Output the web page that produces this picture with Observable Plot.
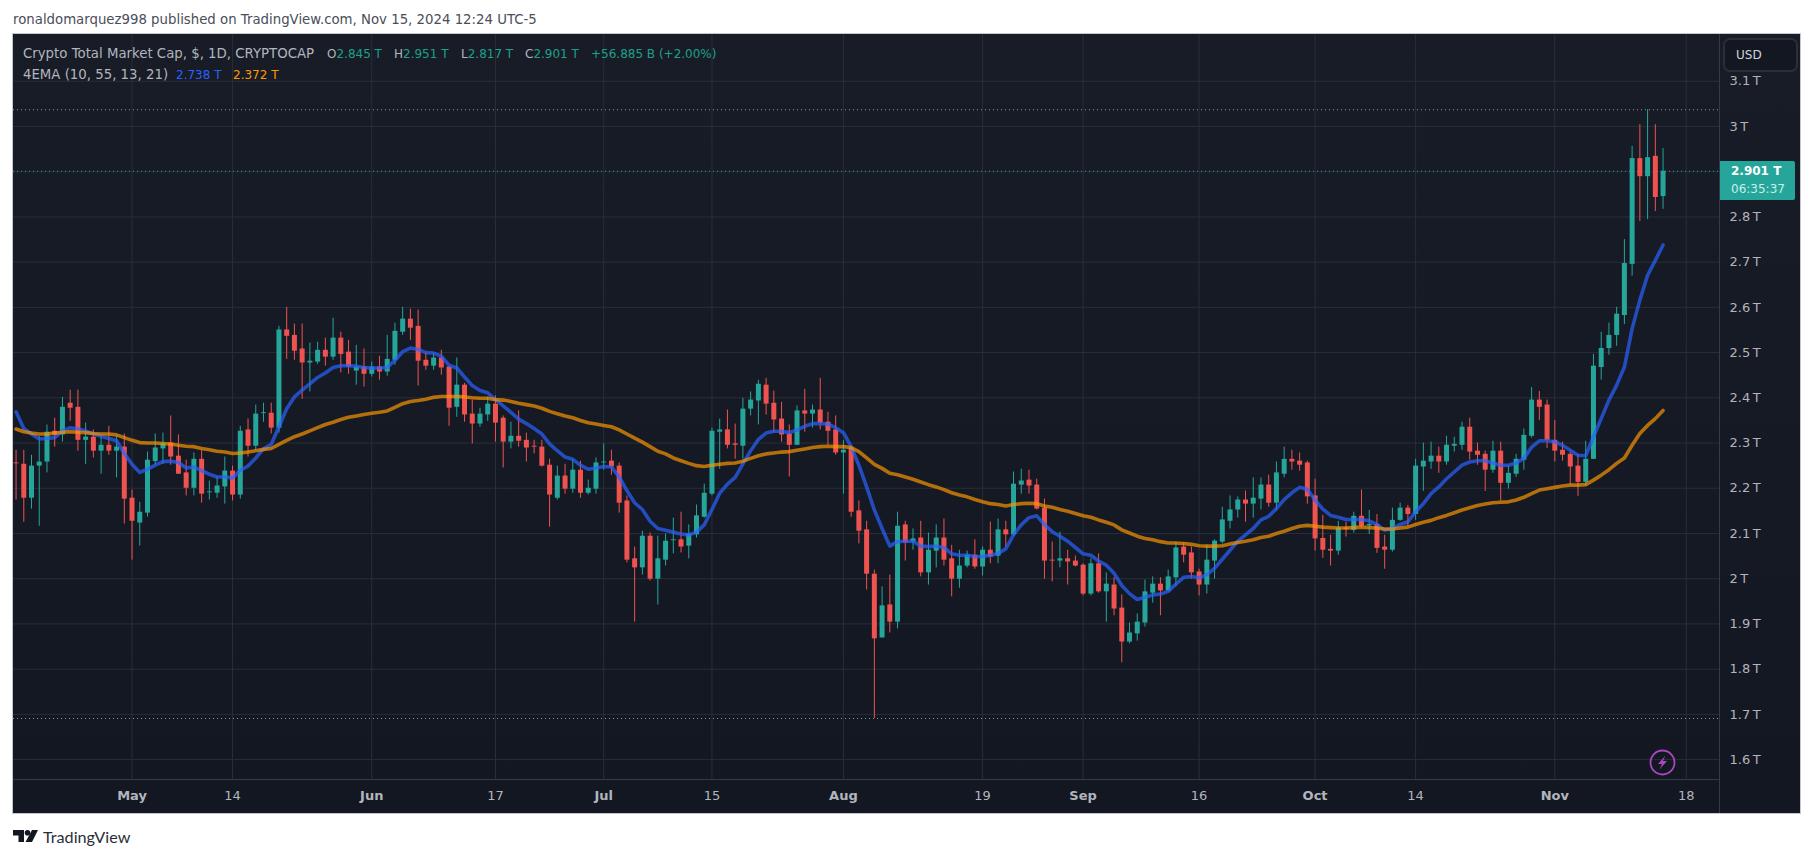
<!DOCTYPE html>
<html>
<head>
<meta charset="utf-8">
<script src="https://cdn.jsdelivr.net/npm/d3@7"></script>
<script src="https://cdn.jsdelivr.net/npm/@observablehq/plot@0.6"></script>
<style>
  html, body { margin: 0; padding: 0; background: #fff; }
  body { width: 1814px; height: 858px; position: relative; overflow: hidden; font-family: "DejaVu Sans", sans-serif; }
  #chart { position: absolute; left: 13px; top: 34px; width: 1787px; height: 779px; }
  #border { position: absolute; left: 12px; top: 33px; width: 1787px; height: 779px; border: 1px solid #c4c6cf; pointer-events: none; }
  .t { position: absolute; white-space: pre; font-size: 12px; line-height: 16px; }
  .w { font-size: 13.3px; }
  .g { color: #b2b5be; } .v { color: #1fa08c; }
</style>
</head>
<body>
<div id="chart"></div>
<div id="border"></div>
<div class="t w" style="left:13px;top:12px;color:#4a4e5a">ronaldomarquez998 published on TradingView.com, Nov 15, 2024 12:24 UTC-5</div>
<div class="t g w" style="left:23px;top:46px">Crypto Total Market Cap, $, 1D, CRYPTOCAP</div>
<div class="t g" style="left:327px;top:46px">O<span class="v">2.845 T</span></div>
<div class="t g" style="left:394px;top:46px">H<span class="v">2.951 T</span></div>
<div class="t g" style="left:461px;top:46px">L<span class="v">2.817 T</span></div>
<div class="t g" style="left:525px;top:46px">C<span class="v">2.901 T</span></div>
<div class="t v" style="left:591px;top:46px">+56.885 B (+2.00%)</div>
<div class="t g w" style="left:23px;top:67px">4EMA (10, 55, 13, 21)</div>
<div class="t" style="left:176px;top:67px;color:#2962ff">2.738 T</div>
<div class="t" style="left:233px;top:67px;color:#ff9800">2.372 T</div>
<div class="t" style="left:1723px;top:38px;width:71px;height:30px;border:2px solid #2a2e39;border-radius:7px;background:#131722;color:#d1d4dc;font-weight:500"><span style="position:absolute;left:11px;top:7px">USD</span></div>
<div style="position:absolute;left:1720px;top:161px;width:75px;height:39px;background:#26a69a;border-radius:0 2px 2px 0"></div>
<div class="t" style="left:1731px;top:163px;color:#fff;font-weight:bold">2.901 T</div>
<div class="t" style="left:1731px;top:181px;color:#c8efe8">06:35:37</div>
<svg style="position:absolute;left:1649px;top:749px" width="27" height="27" viewBox="0 0 27 27">
  <circle cx="13.5" cy="13.5" r="12" fill="none" stroke="#ab47bc" stroke-width="1.8"/>
  <path d="M16.5 6.5 L9 15 L13 15 L10.5 20.5 L18 12 L14 12 Z" fill="#ab47bc"/>
</svg>
<svg style="position:absolute;left:13px;top:830px" width="25" height="13" viewBox="0 0 25 13">
  <path d="M0 0 H11 V12 H5.5 V5.5 H0 Z" fill="#131722"/>
  <circle cx="14.5" cy="2.8" r="2.8" fill="#131722"/>
  <path d="M19 0 H25 L19 12 H12.5 Z" fill="#131722"/>
</svg>
<div class="t" style="left:43px;top:827px;font-size:16.2px;line-height:20px;color:#2a2e39;font-family:Lato,sans-serif">TradingView</div>
<script>
// daily candles, Apr 16 to Nov 15 2024, in billions of dollars
const firstDay = "2024-04-16";
const opens = [2256,2253,2178,2249,2258,2326,2318,2388,2379,2306,2313,2282,2295,2282,2291,
2178,2123,2145,2259,2287,2300,2271,2234,2200,2264,2190,2189,2203,2238,2185,2329,2293,2365,2366,2333,2550,2538,2508,2477,2479,2505,2490,2532,2501,2459,2468,
2452,2468,2457,2483,2545,2574,2558,2483,2470,2488,2468,2379,2428,2364,2342,2362,2386,2355,2302,2315,2306,2291,2291,2251,2178,2227,2198,2240,2189,2198,
2256,2260,2249,2172,2044,2024,2094,1999,2041,2084,2086,2072,2097,2136,2187,2324,2329,2298,2293,2375,2393,2428,2388,2353,2320,2295,2371,2364,2373,2346,2329,
2278,2289,2150,2108,2010,1869,1942,1904,2119,2081,2090,2013,2061,2090,2044,1999,2028,2052,2026,2063,2050,2108,2097,2207,2218,2207,2156,2041,2039,2044,2039,
2030,1966,2033,1971,1986,1935,1860,1878,1902,1968,1988,1973,2002,2070,2057,2015,1986,2039,2081,2127,2152,2174,2165,2176,2207,2167,2231,2264,2260,2256,
2183,2089,2065,2061,2112,2107,2138,2117,2120,2070,2063,2129,2156,2142,2247,2258,2271,2258,2293,2295,2335,2282,2275,2240,2282,2211,2231,2262,2315,2395,2384,
2306,2284,2275,2249,2213,2264,2467,2509,2538,2582,2695,2929,2889,2934,2845];
const highs = [2284,2284,2273,2315,2340,2355,2401,2417,2417,2344,2329,2315,2337,2315,2320,
2196,2169,2280,2320,2322,2360,2318,2262,2278,2284,2216,2225,2269,2249,2337,2353,2384,2388,2388,2558,2600,2563,2563,2521,2523,2532,2576,2545,2527,2516,2508,
2479,2492,2538,2565,2600,2596,2594,2499,2499,2505,2470,2488,2432,2395,2377,2401,2404,2360,2346,2371,2322,2306,2306,2264,2249,2253,2264,2260,2218,2267,
2298,2284,2256,2183,2070,2105,2101,2094,2099,2134,2147,2119,2163,2209,2333,2353,2373,2342,2399,2413,2439,2443,2415,2390,2340,2382,2419,2384,2443,2368,2360,
2306,2293,2172,2127,2019,1982,2008,2147,2127,2110,2127,2101,2119,2132,2074,2063,2061,2086,2070,2125,2132,2127,2236,2242,2240,2220,2176,2081,2103,2063,2050,
2033,2044,2055,2013,2002,1964,1902,1922,1997,2004,2002,2019,2079,2079,2070,2021,2074,2086,2158,2183,2181,2194,2223,2223,2229,2258,2291,2284,2278,2260,
2220,2140,2096,2127,2125,2147,2196,2151,2142,2096,2156,2167,2162,2264,2300,2302,2291,2315,2313,2346,2355,2300,2282,2304,2302,2249,2275,2331,2423,2414,2395,
2350,2302,2280,2275,2304,2496,2545,2565,2600,2750,2956,3004,3037,3004,2951];
const lows = [2174,2125,2154,2116,2234,2291,2302,2348,2282,2253,2267,2231,2273,2223,2121,
2041,2072,2136,2251,2253,2251,2231,2183,2183,2167,2174,2178,2165,2172,2176,2269,2284,2346,2320,2322,2485,2483,2397,2413,2474,2470,2483,2455,2452,2428,2424,
2446,2439,2448,2472,2538,2527,2426,2461,2461,2450,2337,2357,2346,2298,2335,2348,2302,2245,2287,2291,2258,2276,2247,2114,2174,2187,2189,2178,2185,2187,
2240,2229,2145,2035,1904,2008,1995,1942,2028,2055,2057,2044,2090,2134,2183,2242,2287,2264,2264,2360,2340,2362,2322,2302,2225,2295,2324,2333,2329,2295,2273,
2187,2136,2077,1975,1691,1869,1880,1889,2039,2063,2004,1986,2024,2028,1960,1979,2024,2021,2006,2033,2033,2068,2094,2187,2187,2152,1999,1993,2024,1986,2026,
1962,1962,1968,1904,1918,1814,1856,1862,1893,1946,1918,1971,1982,2035,1999,1962,1966,1999,2077,2110,2134,2125,2134,2152,2158,2150,2223,2240,2238,2165,
2061,2045,2028,2052,2092,2101,2112,2098,2056,2021,2059,2127,2116,2129,2193,2242,2233,2251,2280,2284,2262,2251,2193,2233,2171,2198,2224,2240,2311,2350,2288,
2258,2260,2207,2182,2205,2264,2439,2494,2514,2562,2669,2790,2794,2812,2817];
const closes = [2254,2178,2249,2258,2324,2318,2379,2377,2306,2313,2282,2295,2282,2291,2176,
2127,2147,2262,2289,2298,2269,2231,2200,2264,2187,2192,2205,2238,2185,2326,2293,2364,2366,2333,2550,2536,2503,2477,2481,2505,2490,2532,2496,2468,2468,2452,
2468,2457,2485,2547,2574,2554,2481,2470,2488,2466,2377,2428,2362,2342,2364,2386,2344,2302,2315,2304,2289,2290,2249,2185,2227,2198,2240,2189,2200,2256,
2258,2247,2167,2041,2024,2094,1999,2044,2083,2086,2070,2099,2139,2189,2326,2329,2295,2295,2375,2395,2430,2386,2351,2318,2295,2371,2364,2373,2344,2326,2278,
2284,2147,2105,2010,1867,1940,1904,2116,2079,2088,2013,2063,2090,2041,1999,2028,2052,2026,2063,2048,2108,2097,2209,2216,2205,2154,2039,2039,2044,2037,2028,
1966,2033,1971,1988,1933,1860,1880,1904,1971,1988,1973,2004,2068,2052,2013,1986,2041,2083,2130,2152,2174,2165,2178,2207,2167,2234,2264,2258,2251,2181,
2088,2063,2061,2112,2109,2138,2116,2120,2067,2063,2129,2156,2142,2249,2260,2271,2258,2295,2297,2335,2280,2273,2240,2282,2211,2233,2264,2317,2395,2379,2306,
2282,2273,2247,2213,2264,2470,2509,2538,2585,2697,2929,2889,2931,2843,2901];
const ema21 = [2369,2332,2320,2309,2310,2312,2327,2334,2331,2327,2320,2315,2310,2305,2277,
2253,2235,2242,2251,2259,2260,2257,2245,2247,2239,2231,2225,2225,2223,2240,2249,2267,2287,2297,2336,2376,2402,2417,2431,2445,2455,2467,2471,2471,2470,2467,
2466,2466,2467,2483,2502,2510,2507,2500,2499,2492,2472,2466,2446,2427,2416,2411,2396,2382,2368,2353,2343,2332,2320,2298,2283,2269,2264,2251,2242,2245,
2248,2247,2225,2195,2168,2153,2127,2111,2107,2103,2099,2097,2103,2119,2153,2189,2209,2224,2254,2283,2308,2322,2326,2326,2323,2329,2337,2343,2343,2342,2334,
2323,2292,2251,2203,2152,2111,2072,2082,2083,2083,2072,2071,2072,2069,2055,2052,2052,2049,2049,2052,2056,2066,2097,2119,2135,2139,2120,2104,2094,2083,2069,
2055,2052,2039,2030,2012,1985,1967,1954,1959,1964,1966,1972,1988,2003,2005,2002,2009,2023,2043,2063,2083,2097,2111,2130,2138,2155,2175,2190,2202,2198,
2174,2154,2140,2136,2131,2131,2131,2128,2120,2107,2111,2120,2126,2148,2166,2188,2203,2221,2236,2251,2258,2261,2261,2256,2251,2251,2256,2266,2291,2305,2305,
2303,2295,2284,2273,2272,2314,2354,2395,2428,2468,2553,2616,2671,2704,2738];
const ema55 = [2331,2325,2322,2320,2320,2322,2324,2325,2324,2323,2321,2320,2320,2318,2312,
2306,2301,2300,2300,2299,2298,2295,2293,2292,2288,2285,2282,2280,2277,2278,2280,2283,2286,2288,2297,2306,2314,2320,2327,2334,2341,2346,2352,2357,2360,2363,
2366,2368,2371,2379,2387,2392,2394,2397,2401,2403,2403,2403,2402,2400,2399,2399,2396,2395,2392,2388,2385,2382,2377,2370,2365,2360,2356,2350,2345,2342,
2339,2336,2329,2320,2311,2302,2292,2282,2276,2267,2261,2255,2250,2248,2251,2253,2255,2256,2260,2266,2272,2276,2278,2280,2281,2284,2287,2290,2292,2293,2292,
2292,2290,2281,2267,2253,2244,2233,2230,2225,2220,2214,2208,2203,2197,2190,2185,2181,2175,2170,2166,2164,2161,2164,2166,2167,2166,2161,2158,2153,2149,2144,
2139,2136,2130,2125,2119,2108,2101,2094,2089,2086,2082,2079,2079,2078,2076,2073,2072,2072,2073,2077,2080,2083,2086,2091,2094,2100,2105,2111,2116,2118,
2116,2114,2113,2112,2112,2113,2114,2113,2112,2110,2110,2112,2114,2120,2125,2129,2135,2140,2146,2152,2157,2162,2165,2168,2169,2170,2174,2180,2188,2196,2199,
2202,2205,2207,2207,2208,2218,2229,2241,2255,2267,2295,2321,2339,2354,2372];
const priceTicks = [1600,1700,1800,1900,2000,2100,2200,2300,2400,2500,2600,2700,2800,2900,3000,3100];
const hiddenPriceTick = 2900;
const monthTicks = ["2024-05-01","2024-06-01","2024-07-01","2024-08-01","2024-09-01","2024-10-01","2024-11-01"];
const monthLabels = ["May","Jun","Jul","Aug","Sep","Oct","Nov"];
const dayTicks = ["2024-05-14","2024-06-17","2024-07-15","2024-08-19","2024-09-16","2024-10-14","2024-11-18"];
const dayLabels = ["14","17","15","19","16","14","18"];
const lastPrice = 2901, rangeHigh = 3037, rangeLow = 1691;

const start = new Date(firstDay + "T00:00Z");
const rows = closes.map((c, i) => ({
  date: d3.utcDay.offset(start, i), o: opens[i], h: highs[i], l: lows[i], c, e21: ema21[i], e55: ema55[i]
}));
const up = "#26a69a", down = "#ef5350", gridc = "#2a2e39", axisc = "#b2b5be";
const dir = d => d.c >= d.o ? up : down;
const mDates = monthTicks.map(d => new Date(d + "T00:00Z"));
const dDates = dayTicks.map(d => new Date(d + "T00:00Z"));
const allTicks = [...mDates, ...dDates];
const xEnd = new Date("2024-11-22T07:12Z");
const labelOf = (dates, labels) => d => labels[dates.findIndex(x => +x === +d)];

const plot = Plot.plot({
  width: 1787, height: 779,
  marginLeft: 0, marginRight: 81, marginTop: 0, marginBottom: 34,
  style: { background: "linear-gradient(#181c27, #131722)", fontFamily: "'DejaVu Sans', sans-serif", fontSize: "12px", overflow: "visible" },
  x: { type: "utc", domain: [new Date("2024-04-15T16:05Z"), xEnd], label: null },
  y: { domain: [1556, 3203.4], label: null },
  marks: [
    Plot.gridY(priceTicks, { stroke: gridc, strokeOpacity: 1 }),
    Plot.gridX(allTicks, { stroke: gridc, strokeOpacity: 1 }),
    Plot.ruleY([rangeHigh], { stroke: "#9598a1", strokeDasharray: "1 3" }),
    Plot.ruleY([rangeLow], { stroke: "#9598a1", strokeDasharray: "1 3" }),
    Plot.ruleY([lastPrice], { stroke: up, strokeDasharray: "1 3" }),
    Plot.ruleX(rows, { x: "date", y1: "l", y2: "h", stroke: dir, strokeWidth: 1 }),
    Plot.ruleX(rows, { x: "date", y1: "o", y2: d => Math.abs(d.c - d.o) < 2 ? d.o + 2 : d.c, stroke: dir, strokeWidth: 5 }),
    Plot.line(rows, { x: "date", y: "e21", stroke: "#2962ff", strokeOpacity: 0.7, strokeWidth: 3.6 }),
    Plot.line(rows, { x: "date", y: "e55", stroke: "#ff9800", strokeOpacity: 0.68, strokeWidth: 3.6 }),
    Plot.ruleX([xEnd], { stroke: "#363a45", insetBottom: -34 }),
    Plot.axisY(priceTicks.filter(t => t !== hiddenPriceTick), {
      anchor: "right", tickSize: 0, tickPadding: 10, color: axisc, fill: axisc, fontSize: 13, label: null,
      tickFormat: d => (d % 1000 === 0 ? d / 1000 : (d / 1000).toFixed(1)) + "\u202fT"
    }),
    Plot.ruleY([1556], { stroke: "#363a45" }),
    Plot.axisX(mDates, {
      anchor: "bottom", tickSize: 0, tickPadding: 11, fill: axisc, fontSize: 13, fontWeight: "bold", label: null,
      tickFormat: labelOf(mDates, monthLabels)
    }),
    Plot.axisX(dDates, {
      anchor: "bottom", tickSize: 0, tickPadding: 11, fill: axisc, fontSize: 13, label: null,
      tickFormat: labelOf(dDates, dayLabels)
    })
  ]
});
document.getElementById("chart").appendChild(plot);
</script>
</body>
</html>
